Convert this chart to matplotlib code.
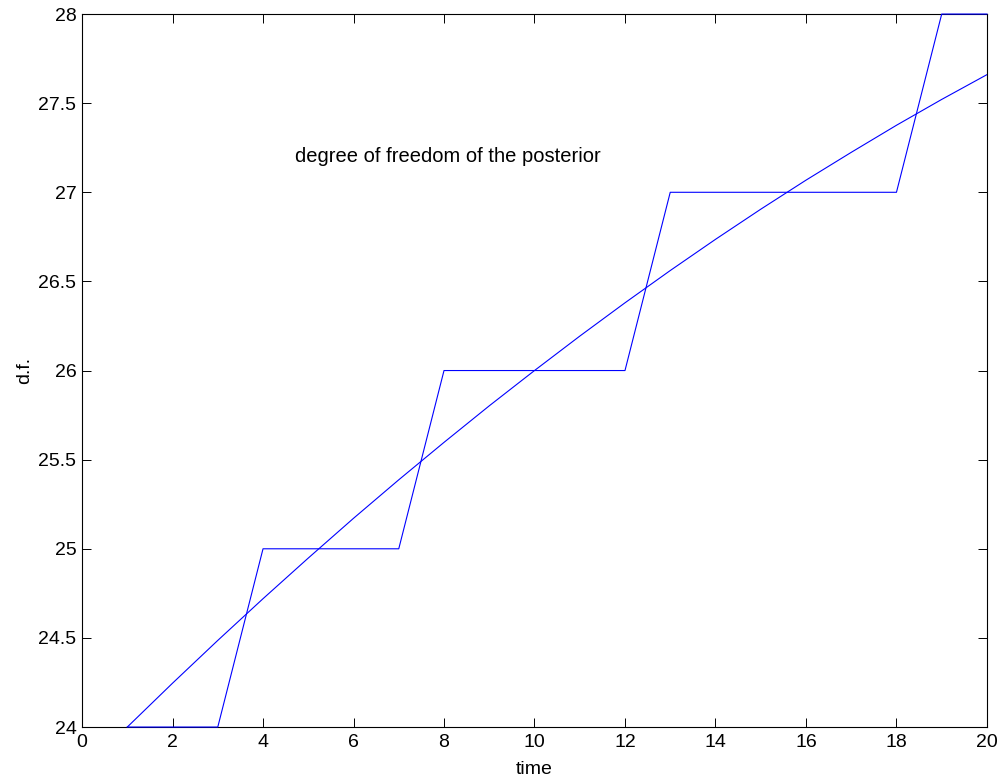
import numpy as np
import matplotlib
matplotlib.use('Agg')
import matplotlib.pyplot as plt

plt.rcParams['font.family'] = ['Liberation Sans', 'DejaVu Sans']

# time steps
t = np.arange(1, 21)

# integer degrees of freedom of the posterior
df_step = [24, 24, 24, 25, 25, 25, 25, 26, 26, 26,
           26, 26, 27, 27, 27, 27, 27, 27, 28, 28]

# smooth (effective) degrees of freedom
df_smooth = [24.000, 24.246, 24.486, 24.720, 24.948, 25.171, 25.387, 25.597, 25.802, 26.000,
             26.193, 26.380, 26.561, 26.736, 26.905, 27.068, 27.224, 27.376, 27.521, 27.660]


def main():
    fig = plt.figure(figsize=(10.03, 7.80), dpi=100)
    ax = fig.add_axes([0.0818, 0.0679, 0.9022, 0.9141])

    # keep lines on top of the box so segments on the limits stay visible
    ax.plot(t, df_step, color='#0000ff', linewidth=0.8, zorder=3, clip_on=False)
    ax.plot(t, df_smooth, color='#0000ff', linewidth=0.8, zorder=3)

    ax.set_xlim(0, 20)
    ax.set_ylim(24, 28)
    ax.set_xticks(np.arange(0, 21, 2))
    ax.set_yticks(np.arange(24, 28.01, 0.5))
    ax.set_yticklabels(['24', '24.5', '25', '25.5', '26', '26.5', '27', '27.5', '28'])

    ax.tick_params(direction='in', length=6.5, width=0.7, labelsize=14,
                   top=True, right=True)
    ax.tick_params(axis='x', pad=5)
    ax.tick_params(axis='y', pad=4)
    for s in ax.spines.values():
        s.set_linewidth(0.8)

    ax.set_xlabel('time', fontsize=14, labelpad=7)
    ax.set_ylabel('d.f.', fontsize=14, labelpad=4)

    ax.text(4.7, 27.2, 'degree of freedom of the posterior', fontsize=14.5,
            ha='left', va='center')

    fig.savefig('out.png', dpi=100)


if __name__ == "__main__":
    main()
